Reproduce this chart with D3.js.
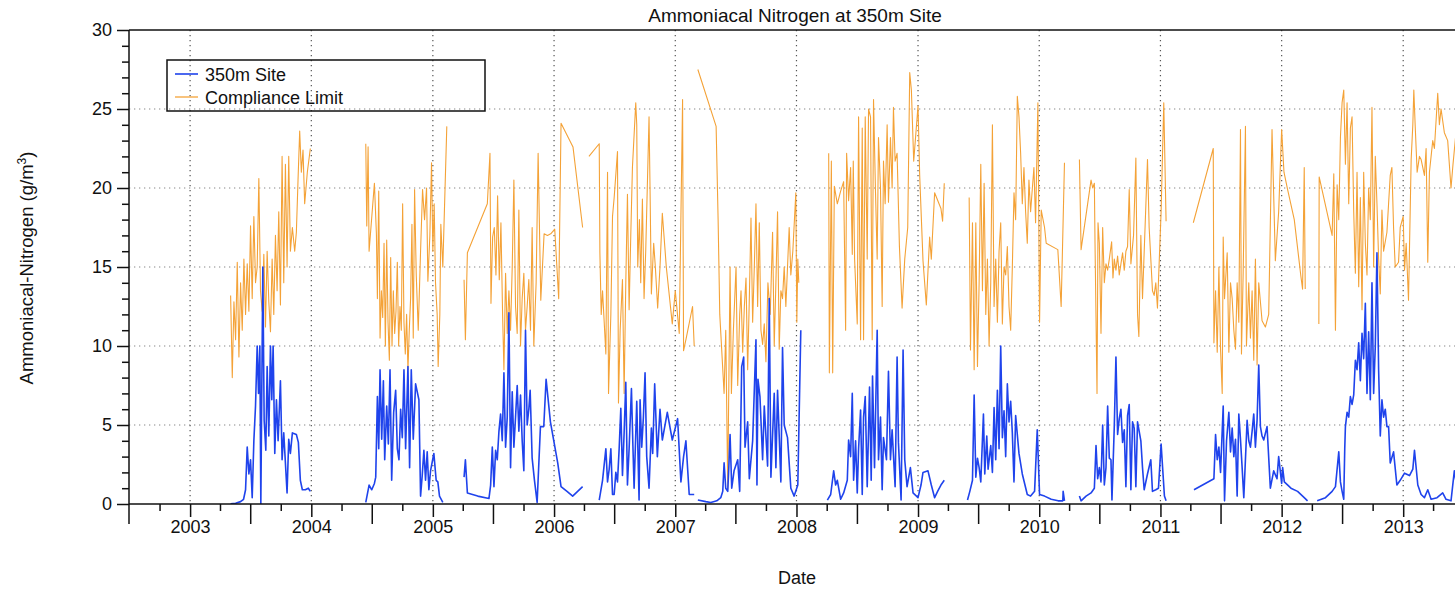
<!DOCTYPE html>
<html>
<head>
<meta charset="utf-8">
<script src="https://cdn.jsdelivr.net/npm/d3@7"></script>
<style>
  body { margin: 0; background: #fff; }
  svg text { font-family: "Liberation Sans", Arial, Helvetica, sans-serif; fill: #111; }
</style>
</head>
<body>
<div id="chart"></div>
<script>
// 350m Site readings, one array per sampling season [date, g/m3]
var site2003 = [["2003-05-03",0.02],["2003-05-18",0.05],["2003-06-02",0.15],["2003-06-11",0.3],["2003-06-17",0.9],["2003-06-22",3.6],["2003-06-27",1.9],["2003-07-02",2.8],["2003-07-07",0.4],["2003-07-12",4.0],["2003-07-17",6.2],["2003-07-22",10.0],["2003-07-26",7.0],["2003-07-30",10.0],["2003-08-02",0.0],["2003-08-08",15.0],["2003-08-12",5.3],["2003-08-17",3.4],["2003-08-21",8.7],["2003-08-26",4.3],["2003-08-31",10.0],["2003-09-04",6.6],["2003-09-08",10.0],["2003-09-13",3.2],["2003-09-18",6.6],["2003-09-23",4.0],["2003-09-30",7.8],["2003-10-05",2.8],["2003-10-10",4.5],["2003-10-20",0.7],["2003-10-25",4.1],["2003-10-30",3.2],["2003-11-05",4.5],["2003-11-17",4.4],["2003-11-23",3.9],["2003-11-29",1.5],["2003-12-05",0.9],["2003-12-14",0.9],["2003-12-23",1.0],["2003-12-29",0.8]];
var site2004 = [["2004-06-13",0.1],["2004-06-23",1.2],["2004-07-01",0.9],["2004-07-09",1.3],["2004-07-13",1.7],["2004-07-18",6.8],["2004-07-22",3.5],["2004-07-26",8.5],["2004-07-31",4.1],["2004-08-05",7.8],["2004-08-09",2.8],["2004-08-15",6.2],["2004-08-20",3.8],["2004-08-25",8.5],["2004-08-30",1.5],["2004-09-05",5.8],["2004-09-11",7.2],["2004-09-16",3.5],["2004-09-21",2.8],["2004-09-26",6.0],["2004-10-01",4.2],["2004-10-06",8.5],["2004-10-11",3.5],["2004-10-18",8.7],["2004-10-23",2.3],["2004-10-28",8.5],["2004-11-03",4.1],["2004-11-10",7.6],["2004-11-20",6.6],["2004-11-25",0.5],["2004-11-30",1.8],["2004-12-05",3.4],["2004-12-10",1.5],["2004-12-15",3.3],["2004-12-20",0.9],["2004-12-25",2.1],["2005-01-04",3.2],["2005-01-11",1.5],["2005-01-16",1.4],["2005-01-21",0.5],["2005-01-31",0.1]];
var site2005 = [["2005-04-05",1.7],["2005-04-09",2.8],["2005-04-15",0.7],["2005-05-16",0.5],["2005-06-19",0.35],["2005-06-24",1.2],["2005-06-29",3.6],["2005-07-04",1.1],["2005-07-09",3.4],["2005-07-14",2.8],["2005-07-19",4.6],["2005-07-24",5.7],["2005-07-29",4.0],["2005-08-03",8.3],["2005-08-08",3.6],["2005-08-13",5.5],["2005-08-18",12.1],["2005-08-23",2.3],["2005-08-28",7.1],["2005-09-02",3.6],["2005-09-07",5.5],["2005-09-12",7.5],["2005-09-17",4.6],["2005-09-22",6.9],["2005-09-27",4.0],["2005-10-02",2.1],["2005-10-07",11.0],["2005-10-12",5.0],["2005-10-17",6.0],["2005-10-21",7.2],["2005-10-27",2.9],["2005-11-03",1.5],["2005-11-11",0.1],["2005-11-21",4.9],["2005-12-01",4.9],["2005-12-08",7.9],["2005-12-21",5.2],["2006-01-12",2.6],["2006-01-22",1.1],["2006-02-09",0.8],["2006-02-26",0.5],["2006-03-28",1.1]];
var site2006 = [["2006-05-17",0.25],["2006-05-27",1.5],["2006-06-06",3.5],["2006-06-11",1.4],["2006-06-16",2.2],["2006-06-21",3.5],["2006-06-26",0.6],["2006-07-01",0.6],["2006-07-06",2.0],["2006-07-11",1.4],["2006-07-16",3.5],["2006-07-21",6.05],["2006-07-26",1.8],["2006-07-31",4.5],["2006-08-05",7.7],["2006-08-10",1.2],["2006-08-15",3.5],["2006-08-22",7.3],["2006-08-26",4.0],["2006-08-30",1.0],["2006-09-07",6.5],["2006-09-14",0.25],["2006-09-17",6.6],["2006-09-22",3.6],["2006-09-27",5.5],["2006-10-02",8.3],["2006-10-07",3.0],["2006-10-14",1.0],["2006-10-21",4.8],["2006-10-25",3.2],["2006-10-31",7.6],["2006-11-08",3.0],["2006-11-16",6.0],["2006-11-23",4.05],["2006-12-08",5.8],["2006-12-23",4.05],["2007-01-08",5.4],["2007-01-18",1.4],["2007-01-26",3.0],["2007-02-02",4.0],["2007-02-12",0.6],["2007-02-27",0.6]];
var site2007 = [["2007-03-10",0.25],["2007-04-03",0.15],["2007-04-18",0.1],["2007-05-06",0.2],["2007-05-18",0.4],["2007-05-24",0.8],["2007-05-28",2.6],["2007-06-02",1.0],["2007-06-08",0.8],["2007-06-11",2.2],["2007-06-15",4.4],["2007-06-20",1.0],["2007-06-27",2.1],["2007-07-08",2.8],["2007-07-14",0.8],["2007-07-20",8.7],["2007-07-26",9.3],["2007-07-30",3.6],["2007-08-07",5.2],["2007-08-12",1.6],["2007-08-22",4.0],["2007-09-01",10.4],["2007-09-04",1.2],["2007-09-07",7.9],["2007-09-13",6.8],["2007-09-21",2.8],["2007-09-26",6.2],["2007-10-06",2.4],["2007-10-11",13.0],["2007-10-16",1.7],["2007-10-26",7.0],["2007-10-31",2.3],["2007-11-05",7.2],["2007-11-15",1.4],["2007-11-20",9.9],["2007-11-25",5.0],["2007-12-05",4.2],["2007-12-15",1.0],["2007-12-25",0.5],["2008-01-05",1.2],["2008-01-14",11.0]];
var site2008 = [["2008-04-03",0.25],["2008-04-13",0.6],["2008-04-22",2.1],["2008-04-28",1.2],["2008-05-03",1.5],["2008-05-13",0.3],["2008-05-22",0.7],["2008-06-02",1.5],["2008-06-06",4.05],["2008-06-12",3.0],["2008-06-17",7.0],["2008-06-21",1.5],["2008-06-27",4.0],["2008-07-02",0.7],["2008-07-06",3.5],["2008-07-12",5.95],["2008-07-17",0.6],["2008-07-21",5.5],["2008-07-26",6.8],["2008-08-01",1.1],["2008-08-08",7.4],["2008-08-13",1.5],["2008-08-17",8.1],["2008-08-23",2.3],["2008-08-31",11.0],["2008-09-04",2.8],["2008-09-10",5.5],["2008-09-15",0.9],["2008-09-19",4.2],["2008-09-28",2.8],["2008-10-04",8.4],["2008-10-10",2.8],["2008-10-15",4.7],["2008-10-24",1.1],["2008-10-30",9.3],["2008-11-03",3.9],["2008-11-11",0.25],["2008-11-17",9.75],["2008-11-22",2.8],["2008-11-29",1.1],["2008-12-09",2.3],["2008-12-17",0.7],["2009-01-01",0.4],["2009-01-10",1.2],["2009-01-16",2.0],["2009-01-31",2.1],["2009-02-10",1.2],["2009-02-20",0.4],["2009-03-01",0.8],["2009-03-11",1.2],["2009-03-21",1.5]];
var site2009 = [["2009-05-30",0.25],["2009-06-06",0.8],["2009-06-14",1.5],["2009-06-19",6.9],["2009-06-24",1.7],["2009-06-29",2.9],["2009-07-04",2.3],["2009-07-09",1.4],["2009-07-17",5.7],["2009-07-21",1.9],["2009-07-27",4.3],["2009-07-31",2.2],["2009-08-08",3.7],["2009-08-13",2.0],["2009-08-18",6.1],["2009-08-23",2.8],["2009-08-28",7.2],["2009-09-02",3.5],["2009-09-07",10.0],["2009-09-12",4.2],["2009-09-17",5.9],["2009-09-22",3.0],["2009-09-27",7.6],["2009-10-02",5.2],["2009-10-07",6.5],["2009-10-12",4.5],["2009-10-17",1.4],["2009-10-22",5.6],["2009-11-01",3.2],["2009-11-11",1.9],["2009-11-26",0.6],["2009-12-06",0.5],["2009-12-18",0.8],["2009-12-26",4.7],["2010-01-02",0.6],["2010-01-17",0.5],["2010-02-06",0.3],["2010-02-27",0.2],["2010-03-13",0.2],["2010-03-14",0.8],["2010-03-18",0.2]];
var site2010 = [["2010-05-02",0.5],["2010-05-07",0.2],["2010-05-22",0.5],["2010-06-06",0.7],["2010-06-16",1.0],["2010-06-21",3.7],["2010-06-26",1.6],["2010-07-01",2.3],["2010-07-06",1.4],["2010-07-11",5.0],["2010-07-16",1.2],["2010-07-21",2.3],["2010-07-26",6.2],["2010-07-31",2.9],["2010-08-05",2.8],["2010-08-08",0.25],["2010-08-15",4.9],["2010-08-20",9.3],["2010-08-25",4.4],["2010-08-30",5.4],["2010-09-04",6.0],["2010-09-09",3.9],["2010-09-14",4.7],["2010-09-19",1.1],["2010-09-24",5.6],["2010-09-29",6.3],["2010-10-04",0.9],["2010-10-09",5.2],["2010-10-14",4.8],["2010-10-19",1.1],["2010-10-24",5.2],["2010-10-29",4.6],["2010-11-03",4.0],["2010-11-08",2.3],["2010-11-13",0.9],["2010-11-23",1.9],["2010-12-03",2.8],["2010-12-08",0.8],["2010-12-18",0.9],["2010-12-26",1.0],["2011-01-03",3.8],["2011-01-13",0.5],["2011-01-18",0.2]];
var site2011 = [["2011-04-12",0.9],["2011-06-11",1.6],["2011-06-16",4.4],["2011-06-21",2.8],["2011-06-26",3.6],["2011-07-01",2.0],["2011-07-09",6.2],["2011-07-13",0.2],["2011-07-19",4.0],["2011-07-26",5.8],["2011-07-31",3.3],["2011-08-05",4.8],["2011-08-10",3.0],["2011-08-15",4.1],["2011-08-20",0.5],["2011-08-25",5.7],["2011-08-30",4.1],["2011-09-04",2.3],["2011-09-09",0.4],["2011-09-19",5.3],["2011-09-24",4.0],["2011-09-29",3.6],["2011-10-04",4.6],["2011-10-09",5.7],["2011-10-14",3.6],["2011-10-19",5.3],["2011-10-24",8.8],["2011-10-29",4.9],["2011-11-03",4.3],["2011-11-08",4.05],["2011-11-18",4.9],["2011-11-28",1.0],["2011-12-08",2.1],["2011-12-18",1.6],["2011-12-23",3.0],["2012-01-01",1.3],["2012-01-04",2.3],["2012-01-09",1.4],["2012-01-29",1.0],["2012-02-18",0.8],["2012-03-09",0.4],["2012-03-19",0.2]];
var site2012 = [["2012-04-17",0.2],["2012-05-12",0.4],["2012-06-01",0.8],["2012-06-11",1.1],["2012-06-21",3.3],["2012-06-26",1.4],["2012-07-01",0.8],["2012-07-06",0.3],["2012-07-09",3.5],["2012-07-11",4.9],["2012-07-16",5.8],["2012-07-21",5.5],["2012-07-26",6.8],["2012-07-31",6.3],["2012-08-05",6.9],["2012-08-10",9.1],["2012-08-15",8.5],["2012-08-20",10.2],["2012-08-25",7.8],["2012-08-30",10.8],["2012-09-04",9.2],["2012-09-09",12.7],["2012-09-14",7.0],["2012-09-19",10.9],["2012-09-24",6.6],["2012-09-29",14.0],["2012-10-04",7.0],["2012-10-09",10.0],["2012-10-14",15.9],["2012-10-19",8.5],["2012-10-24",4.3],["2012-10-29",6.6],["2012-11-03",5.5],["2012-11-08",6.0],["2012-11-13",4.9],["2012-11-18",4.9],["2012-11-23",2.6],["2012-12-03",3.3],["2012-12-13",1.2],["2012-12-23",1.5],["2013-01-05",1.95],["2013-01-20",1.8],["2013-01-30",2.2],["2013-02-04",3.4],["2013-02-14",1.2],["2013-02-24",0.6],["2013-03-06",0.4],["2013-03-16",0.9],["2013-03-26",0.3],["2013-04-13",0.4],["2013-04-30",0.7],["2013-05-10",0.3],["2013-05-25",0.2],["2013-06-04",2.1],["2013-06-12",1.0]];

// Compliance limit, same seasons
var limit2003 = [["2003-05-03",13.2],["2003-05-08",8.0],["2003-05-13",12.8],["2003-05-18",10.4],["2003-05-23",15.3],["2003-05-28",9.3],["2003-06-02",14.0],["2003-06-07",11.0],["2003-06-12",15.5],["2003-06-17",12.0],["2003-06-22",15.2],["2003-06-27",12.2],["2003-07-02",17.6],["2003-07-07",13.0],["2003-07-12",18.2],["2003-07-17",14.0],["2003-07-22",15.0],["2003-07-27",20.6],["2003-08-01",13.5],["2003-08-06",12.2],["2003-08-11",15.8],["2003-08-16",11.2],["2003-08-21",16.0],["2003-08-26",12.8],["2003-08-31",10.9],["2003-09-05",15.5],["2003-09-10",12.0],["2003-09-15",17.0],["2003-09-20",13.5],["2003-09-25",18.5],["2003-09-30",12.6],["2003-10-05",22.0],["2003-10-10",14.0],["2003-10-15",21.5],["2003-10-20",15.0],["2003-10-25",22.0],["2003-10-30",16.0],["2003-11-05",17.5],["2003-11-12",16.0],["2003-11-17",17.2],["2003-11-22",20.5],["2003-11-27",23.6],["2003-12-02",21.0],["2003-12-07",22.4],["2003-12-12",19.0],["2003-12-20",21.0],["2003-12-29",22.5]];
var limit2004 = [["2004-06-13",22.8],["2004-06-16",17.6],["2004-06-20",22.6],["2004-06-23",16.0],["2004-07-09",20.3],["2004-07-15",17.1],["2004-07-18",13.0],["2004-07-22",19.8],["2004-07-26",10.5],["2004-07-30",13.5],["2004-08-03",11.8],["2004-08-07",16.5],["2004-08-11",10.0],["2004-08-15",16.7],["2004-08-19",11.5],["2004-08-23",9.1],["2004-08-27",15.6],["2004-08-31",10.0],["2004-09-04",13.5],["2004-09-08",10.8],["2004-09-12",12.2],["2004-09-16",15.3],["2004-09-20",10.0],["2004-09-24",12.5],["2004-09-28",11.0],["2004-10-02",19.0],["2004-10-06",11.5],["2004-10-10",9.5],["2004-10-14",12.0],["2004-10-18",8.5],["2004-10-22",11.0],["2004-10-26",13.0],["2004-10-30",17.7],["2004-11-03",10.5],["2004-11-07",19.9],["2004-11-12",14.5],["2004-11-18",11.0],["2004-11-25",16.0],["2004-12-01",19.9],["2004-12-07",18.0],["2004-12-13",20.0],["2004-12-17",14.1],["2004-12-23",17.0],["2004-12-28",21.6],["2005-01-01",16.0],["2005-01-05",19.0],["2005-01-09",14.0],["2005-01-14",12.0],["2005-01-17",8.7],["2005-01-22",12.0],["2005-01-25",17.7],["2005-01-31",15.0],["2005-02-12",23.9]];
var limit2005 = [["2005-04-05",14.2],["2005-04-09",10.4],["2005-04-15",15.9],["2005-06-14",19.0],["2005-06-22",22.2],["2005-06-25",12.7],["2005-06-30",16.9],["2005-07-05",17.5],["2005-07-10",14.5],["2005-07-15",19.5],["2005-07-20",14.2],["2005-07-25",17.8],["2005-07-30",12.0],["2005-08-03",8.5],["2005-08-08",14.6],["2005-08-13",10.8],["2005-08-18",13.5],["2005-08-23",11.0],["2005-08-28",15.0],["2005-09-02",20.5],["2005-09-07",12.5],["2005-09-12",10.8],["2005-09-17",18.6],["2005-09-22",10.0],["2005-09-27",13.0],["2005-10-02",14.6],["2005-10-07",11.0],["2005-10-12",12.5],["2005-10-17",14.2],["2005-10-22",11.0],["2005-10-27",17.5],["2005-11-01",10.0],["2005-11-08",14.0],["2005-11-14",22.2],["2005-11-22",12.9],["2005-12-02",17.1],["2005-12-12",17.0],["2005-12-22",17.1],["2006-01-03",17.4],["2006-01-15",13.0],["2006-01-22",24.1],["2006-02-27",22.6],["2006-03-28",17.5]];
var limit2006 = [["2006-04-16",22.0],["2006-05-17",22.8],["2006-05-19",15.9],["2006-05-23",12.0],["2006-05-27",13.5],["2006-06-06",9.5],["2006-06-11",21.0],["2006-06-14",7.0],["2006-06-21",12.0],["2006-06-26",18.2],["2006-07-01",19.4],["2006-07-11",22.3],["2006-07-14",6.4],["2006-07-19",11.0],["2006-07-26",14.2],["2006-07-31",7.0],["2006-08-05",14.0],["2006-08-10",19.6],["2006-08-15",12.3],["2006-08-20",17.0],["2006-08-25",21.3],["2006-09-04",25.4],["2006-09-07",24.0],["2006-09-10",15.0],["2006-09-15",18.0],["2006-09-19",14.0],["2006-09-24",19.3],["2006-09-29",13.0],["2006-10-04",16.0],["2006-10-14",24.5],["2006-10-17",20.0],["2006-10-21",13.3],["2006-10-28",16.5],["2006-11-02",15.0],["2006-11-09",12.4],["2006-11-16",15.0],["2006-11-23",18.4],["2006-12-05",15.0],["2006-12-23",11.4],["2007-01-01",13.5],["2007-01-13",10.8],["2007-01-23",25.6],["2007-01-26",9.7],["2007-02-03",10.5],["2007-02-22",12.5],["2007-02-27",10.0]];
var limit2007 = [["2007-03-10",27.5],["2007-05-04",23.9],["2007-05-10",18.0],["2007-05-15",12.0],["2007-05-28",7.0],["2007-06-02",11.0],["2007-06-08",1.0],["2007-06-10",5.0],["2007-06-15",15.0],["2007-06-19",7.0],["2007-06-25",11.0],["2007-07-03",15.0],["2007-07-08",7.5],["2007-07-14",12.0],["2007-07-18",13.5],["2007-07-23",9.6],["2007-07-28",12.5],["2007-08-02",14.3],["2007-08-07",8.5],["2007-08-12",13.0],["2007-08-17",18.1],["2007-08-22",11.5],["2007-08-27",15.0],["2007-09-01",19.0],["2007-09-06",12.5],["2007-09-11",17.8],["2007-09-16",11.0],["2007-09-21",10.1],["2007-09-26",11.4],["2007-10-01",9.0],["2007-10-07",14.0],["2007-10-14",12.0],["2007-10-21",17.2],["2007-10-26",10.0],["2007-10-31",14.0],["2007-11-05",18.5],["2007-11-10",9.8],["2007-11-15",13.5],["2007-11-20",13.0],["2007-11-25",15.0],["2007-11-30",12.5],["2007-12-10",17.5],["2007-12-15",14.5],["2007-12-21",16.0],["2007-12-30",19.7],["2008-01-02",11.5],["2008-01-05",15.5],["2008-01-08",14.0]];
var limit2008 = [["2008-04-07",22.2],["2008-04-09",8.3],["2008-04-15",21.7],["2008-04-19",8.3],["2008-04-24",20.1],["2008-05-03",19.0],["2008-05-13",19.8],["2008-05-22",20.4],["2008-05-28",11.0],["2008-05-31",22.2],["2008-06-06",19.2],["2008-06-12",21.3],["2008-06-17",15.8],["2008-06-20",21.7],["2008-06-24",15.5],["2008-07-02",11.4],["2008-07-06",24.5],["2008-07-12",10.4],["2008-07-17",23.8],["2008-07-21",10.4],["2008-07-26",24.5],["2008-08-01",15.5],["2008-08-05",25.0],["2008-08-11",24.5],["2008-08-16",10.4],["2008-08-20",25.6],["2008-08-26",19.7],["2008-08-31",15.5],["2008-09-04",23.2],["2008-09-10",20.0],["2008-09-15",12.5],["2008-09-19",21.7],["2008-09-24",19.0],["2008-09-30",24.0],["2008-10-04",19.1],["2008-10-10",23.2],["2008-10-15",20.0],["2008-10-19",25.1],["2008-10-24",21.7],["2008-10-30",22.2],["2008-11-06",16.3],["2008-11-14",12.4],["2008-11-22",15.5],["2008-12-01",17.5],["2008-12-07",27.3],["2008-12-12",26.2],["2008-12-19",21.7],["2009-01-01",25.2],["2009-01-06",20.8],["2009-01-16",15.4],["2009-01-26",12.6],["2009-02-05",16.9],["2009-02-10",15.5],["2009-02-20",19.7],["2009-03-11",18.7],["2009-03-16",17.9],["2009-03-21",20.3]];
var limit2009 = [["2009-06-04",19.4],["2009-06-08",9.75],["2009-06-14",17.8],["2009-06-19",8.5],["2009-06-24",17.8],["2009-06-29",8.7],["2009-07-04",14.0],["2009-07-09",21.5],["2009-07-14",13.5],["2009-07-19",20.3],["2009-07-24",12.0],["2009-07-29",15.5],["2009-08-03",10.0],["2009-08-08",14.0],["2009-08-13",24.0],["2009-08-18",12.5],["2009-08-23",15.5],["2009-08-28",11.5],["2009-09-02",16.0],["2009-09-07",17.8],["2009-09-12",11.4],["2009-09-17",15.0],["2009-09-22",14.5],["2009-09-27",16.3],["2009-10-02",12.5],["2009-10-07",11.0],["2009-10-12",15.0],["2009-10-17",19.7],["2009-10-22",18.0],["2009-10-27",25.8],["2009-11-01",24.5],["2009-11-06",22.2],["2009-11-11",19.0],["2009-11-16",21.3],["2009-11-21",18.5],["2009-11-26",16.5],["2009-12-01",20.5],["2009-12-06",18.5],["2009-12-16",21.3],["2009-12-21",17.8],["2009-12-28",25.4],["2010-01-02",11.5],["2010-01-07",18.6],["2010-01-17",17.5],["2010-01-22",16.5],["2010-02-26",16.1],["2010-03-08",12.5],["2010-03-18",21.6]];
var limit2010 = [["2010-05-02",21.8],["2010-05-07",16.1],["2010-06-06",20.5],["2010-06-11",20.0],["2010-06-16",20.3],["2010-06-18",16.5],["2010-06-24",7.0],["2010-06-27",17.8],["2010-07-01",16.5],["2010-07-06",10.8],["2010-07-11",17.5],["2010-07-16",14.0],["2010-07-21",15.2],["2010-07-26",14.8],["2010-07-31",15.5],["2010-08-07",16.6],["2010-08-11",14.3],["2010-08-15",15.5],["2010-08-20",14.8],["2010-08-25",15.7],["2010-08-30",14.5],["2010-09-04",15.2],["2010-09-09",15.9],["2010-09-14",14.8],["2010-09-19",16.0],["2010-09-24",16.3],["2010-09-29",19.9],["2010-10-04",15.2],["2010-10-12",17.0],["2010-10-19",21.9],["2010-10-24",12.0],["2010-10-28",10.6],["2010-11-03",17.0],["2010-11-08",13.0],["2010-11-23",21.8],["2010-11-28",17.5],["2010-12-08",13.5],["2010-12-13",13.2],["2010-12-18",14.0],["2010-12-23",12.4],["2011-01-03",18.5],["2011-01-11",25.4],["2011-01-18",17.9]];
var limit2011 = [["2011-04-10",17.8],["2011-06-09",22.5],["2011-06-11",10.2],["2011-06-16",13.5],["2011-06-21",9.6],["2011-06-26",15.0],["2011-07-01",9.8],["2011-07-06",7.0],["2011-07-09",16.9],["2011-07-13",13.0],["2011-07-21",15.9],["2011-07-26",9.6],["2011-07-31",14.0],["2011-08-05",13.0],["2011-08-10",11.0],["2011-08-15",9.8],["2011-08-20",14.0],["2011-08-25",11.5],["2011-08-30",23.7],["2011-09-02",9.5],["2011-09-07",14.5],["2011-09-14",23.9],["2011-09-17",10.0],["2011-09-24",14.0],["2011-09-29",10.5],["2011-10-04",13.5],["2011-10-09",9.1],["2011-10-14",15.5],["2011-10-19",8.8],["2011-10-24",14.0],["2011-11-03",11.6],["2011-11-13",11.2],["2011-11-23",12.0],["2011-12-03",23.7],["2011-12-13",15.4],["2011-12-23",18.5],["2012-01-01",23.7],["2012-01-08",21.0],["2012-01-19",19.9],["2012-02-08",18.0],["2012-02-28",14.4],["2012-03-04",13.6],["2012-03-09",21.3],["2012-03-12",13.6]];
var limit2012 = [["2012-04-22",11.4],["2012-04-23",20.7],["2012-06-01",17.0],["2012-06-06",20.9],["2012-06-11",11.0],["2012-06-16",20.2],["2012-06-21",18.0],["2012-06-26",23.2],["2012-07-01",25.4],["2012-07-06",26.2],["2012-07-11",21.5],["2012-07-16",25.4],["2012-07-21",19.0],["2012-07-26",23.8],["2012-07-31",24.5],["2012-08-05",18.5],["2012-08-10",14.6],["2012-08-15",21.0],["2012-08-20",13.75],["2012-08-25",19.4],["2012-08-30",12.3],["2012-09-04",21.0],["2012-09-09",16.5],["2012-09-14",14.5],["2012-09-19",20.0],["2012-09-24",18.0],["2012-09-29",25.1],["2012-10-04",15.0],["2012-10-09",22.0],["2012-10-14",19.0],["2012-10-19",15.5],["2012-10-24",13.3],["2012-10-29",18.6],["2012-11-03",16.0],["2012-11-13",17.2],["2012-11-18",19.0],["2012-11-23",20.8],["2012-11-28",21.3],["2012-12-03",17.5],["2012-12-08",15.0],["2012-12-18",15.3],["2012-12-23",17.5],["2013-01-01",18.2],["2013-01-05",14.8],["2013-01-10",16.5],["2013-01-17",12.9],["2013-01-25",21.8],["2013-01-30",24.0],["2013-02-02",26.2],["2013-02-06",24.0],["2013-02-12",21.0],["2013-02-19",22.0],["2013-02-24",21.8],["2013-03-06",20.8],["2013-03-11",22.5],["2013-03-16",15.3],["2013-03-21",21.0],["2013-03-31",23.0],["2013-04-05",22.5],["2013-04-15",26.0],["2013-04-20",24.0],["2013-04-25",25.0],["2013-05-05",23.5],["2013-05-15",23.0],["2013-05-25",20.0],["2013-05-31",21.5],["2013-06-09",23.5],["2013-06-18",22.0]];

var siteSeasons = [site2003, site2004, site2005, site2006, site2007, site2008, site2009, site2010, site2011, site2012];
var limitSeasons = [limit2003, limit2004, limit2005, limit2006, limit2007, limit2008, limit2009, limit2010, limit2011, limit2012];

var yMajor = [0, 5, 10, 15, 20, 25, 30];
var yGrid = [5, 10, 15, 20, 25];
var legendLabels = ['350m Site', 'Compliance Limit'];
var colors = ['#1f43ec', '#f4a237'];

var W = 1455, H = 590;
var margin = { top: 30, left: 129, bottom: 86 };
var plotH = H - margin.top - margin.bottom;   // 474
var yearPx = 121.3;

var parse = d3.utcParse('%Y-%m-%d');
var x = d3.scaleUtc()
  .domain([Date.UTC(2002, 6, 1), Date.UTC(2013, 6, 1)])
  .range([margin.left, margin.left + 11 * yearPx]);
var y = d3.scaleLinear().domain([0, 30]).range([margin.top + plotH, margin.top]);
var x1 = x.range()[1];

var svg = d3.select('#chart').append('svg')
  .attr('width', W).attr('height', H)
  .attr('viewBox', `0 0 ${W} ${H}`);

svg.append('defs').append('clipPath').attr('id', 'plot')
  .append('rect')
    .attr('x', margin.left).attr('y', margin.top - 1)
    .attr('width', x1 - margin.left).attr('height', plotH + 1);

// grid
var years = d3.utcYears(Date.UTC(2003, 0, 1), Date.UTC(2013, 1, 1));
svg.append('g').selectAll('line').data(years).join('line')
  .attr('x1', d => x(d)).attr('x2', d => x(d))
  .attr('y1', y(30)).attr('y2', y(0))
  .attr('stroke', '#555').attr('stroke-width', 1.2)
  .attr('stroke-dasharray', '1.3,3.7');
svg.append('g').selectAll('line').data(yGrid).join('line')
  .attr('x1', margin.left).attr('x2', x1)
  .attr('y1', d => y(d)).attr('y2', d => y(d))
  .attr('stroke', '#888').attr('stroke-width', 1.2)
  .attr('stroke-dasharray', '1.3,3.7');

// series
var line = d3.line()
  .x(d => x(parse(d[0])))
  .y(d => y(d[1]));

var plot = svg.append('g').attr('clip-path', 'url(#plot)');
plot.append('g').selectAll('path').data(limitSeasons).join('path')
  .attr('d', line)
  .attr('fill', 'none')
  .attr('stroke', colors[1]).attr('stroke-width', 1.1)
  .attr('stroke-linejoin', 'round');
plot.append('g').selectAll('path').data(siteSeasons).join('path')
  .attr('d', line)
  .attr('fill', 'none')
  .attr('stroke', colors[0]).attr('stroke-width', 1.6)
  .attr('stroke-linejoin', 'round');

// x axis: long ticks mid-year, medium at year start (labelled), short quarters
var quarters = d3.utcMonths(Date.UTC(2002, 9, 1), Date.UTC(2013, 6, 2), 3);
var midYears = quarters.filter(d => d.getUTCMonth() === 6);
var shortQ = quarters.filter(d => d.getUTCMonth() === 3 || d.getUTCMonth() === 9);

function tickAxis (values, size, fmt) {
  var g = svg.append('g')
    .attr('transform', `translate(0, ${y(0)})`)
    .call(d3.axisBottom(x).tickValues(values).tickSize(size).tickPadding(3).tickFormat(fmt || ''));
  g.select('.domain').remove();
  g.selectAll('line').attr('stroke', '#111').attr('stroke-width', 1.5);
  return g;
}
tickAxis(shortQ, 7);
tickAxis(midYears, 20);
tickAxis(years, 13, d3.utcFormat('%Y'))
  .selectAll('text').attr('font-size', 18).attr('fill', '#111');

// y axis
var yMinor = d3.range(0, 31).filter(v => v % 5 !== 0);
var gyMinor = svg.append('g').attr('transform', `translate(${margin.left}, 0)`)
  .call(d3.axisLeft(y).tickValues(yMinor).tickSize(7).tickFormat(''));
var gy = svg.append('g').attr('transform', `translate(${margin.left}, 0)`)
  .call(d3.axisLeft(y).tickValues(yMajor).tickSize(12).tickPadding(5));
[gyMinor, gy].forEach(g => {
  g.select('.domain').remove();
  g.selectAll('line').attr('stroke', '#111').attr('stroke-width', 1.5);
});
gy.selectAll('text').attr('font-size', 18).attr('fill', '#111');

// frame
svg.append('line')
  .attr('x1', margin.left).attr('x2', margin.left)
  .attr('y1', y(30)).attr('y2', y(0) + 20)
  .attr('stroke', '#111').attr('stroke-width', 1.5);
svg.append('line')
  .attr('x1', margin.left).attr('x2', x1)
  .attr('y1', y(0)).attr('y2', y(0))
  .attr('stroke', '#111').attr('stroke-width', 1.5);
svg.append('line')
  .attr('x1', margin.left).attr('x2', x1)
  .attr('y1', y(30)).attr('y2', y(30))
  .attr('stroke', '#111').attr('stroke-width', 1.5);

// titles
svg.append('text')
  .attr('x', 795).attr('y', 22)
  .attr('text-anchor', 'middle').attr('font-size', 19)
  .text('Ammoniacal Nitrogen at 350m Site');
svg.append('text')
  .attr('x', 797).attr('y', 584)
  .attr('text-anchor', 'middle').attr('font-size', 18)
  .text('Date');
var yl = svg.append('text')
  .attr('transform', 'translate(33, 268) rotate(-90)')
  .attr('text-anchor', 'middle').attr('font-size', 18.5);
yl.append('tspan').text('Ammoniacal-Nitrogen (g/m');
yl.append('tspan').attr('font-size', 12).attr('dy', -7).text('3');
yl.append('tspan').attr('dy', 7).text(')');

// legend
var legend = svg.append('g').attr('transform', 'translate(167, 60)');
legend.append('rect')
  .attr('width', 318).attr('height', 51)
  .attr('fill', 'none').attr('stroke', '#111').attr('stroke-width', 1.5);
legendLabels.forEach((label, i) => {
  var row = legend.append('g').attr('transform', `translate(0, ${14 + i * 23})`);
  row.append('line')
    .attr('x1', 8).attr('x2', 31)
    .attr('stroke', colors[i]).attr('stroke-width', i === 0 ? 1.6 : 1.3);
  row.append('text')
    .attr('x', 38).attr('y', 6.5)
    .attr('font-size', 18)
    .text(label);
});
</script>
</body>
</html>
